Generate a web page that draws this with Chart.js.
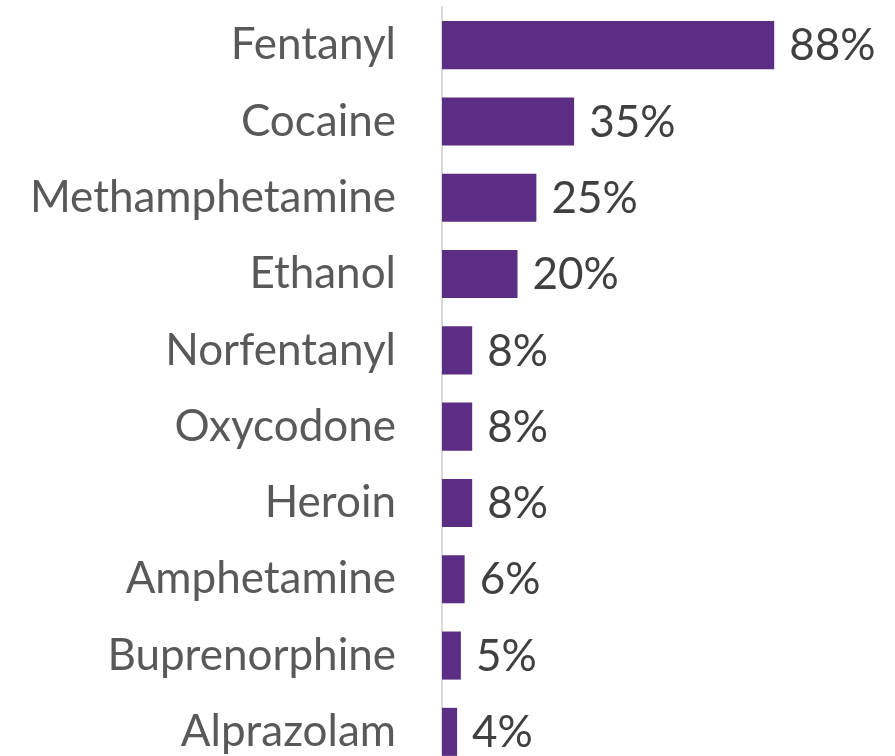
<!DOCTYPE html>
<html lang="en">
<head>
    <meta charset="UTF-8">
    <title>Drugs detected</title>
    <script src="https://cdn.jsdelivr.net/npm/chart.js"></script>
    <style>
        html, body { margin: 0; padding: 0; background: #fff; overflow: hidden; }
        #wrap { position: relative; width: 895px; height: 770px; }
    </style>
</head>
<body>
    <div id="wrap"><canvas id="drugChart"></canvas></div>

    <script>
        // data
        const drugs = ['Fentanyl', 'Cocaine', 'Methamphetamine', 'Ethanol', 'Norfentanyl',
            'Oxycodone', 'Heroin', 'Amphetamine', 'Buprenorphine', 'Alprazolam'];
        const percents = [88, 35, 25, 20, 8, 8, 8, 6, 5, 4];

        const FONT = 'Lato, "Open Sans", sans-serif';

        // draws the "88%" labels next to the bars
        const valueLabels = {
            id: 'valueLabels',
            afterDatasetsDraw(chart) {
                const ctx = chart.ctx;
                const meta = chart.getDatasetMeta(0);
                ctx.save();
                ctx.font = '44px ' + FONT;
                ctx.fillStyle = '#404040';
                ctx.textAlign = 'left';
                ctx.textBaseline = 'middle';
                meta.data.forEach((bar, i) => {
                    ctx.fillText(percents[i] + '%', bar.x + 15, bar.y + 1);
                });
                ctx.restore();
            }
        };

        const ctx = document.getElementById('drugChart').getContext('2d');
        new Chart(ctx, {
            type: 'bar',
            data: {
                labels: drugs,
                datasets: [{
                    data: percents,
                    backgroundColor: '#5c2d84',
                    borderWidth: 0,
                    categoryPercentage: 1,
                    barPercentage: 0.63
                }]
            },
            options: {
                indexAxis: 'y',
                responsive: true,
                maintainAspectRatio: false,
                animation: false,
                layout: { padding: { top: 7, right: 0, bottom: 0, left: 0 } },
                plugins: {
                    legend: { display: false },
                    tooltip: { enabled: false }
                },
                scales: {
                    x: {
                        display: false,
                        min: 0,
                        max: 120
                    },
                    y: {
                        afterFit(scale) {
                            scale.width = 442;
                            scale.paddingTop = 0;
                            scale.paddingBottom = 0;
                        },
                        grid: { display: false, drawTicks: false },
                        border: { display: true, color: '#d9d9d9', width: 2 },
                        ticks: {
                            color: '#595959',
                            padding: 46,
                            font: { family: FONT, size: 44 }
                        }
                    }
                }
            },
            plugins: [valueLabels]
        });
    </script>
</body>
</html>
